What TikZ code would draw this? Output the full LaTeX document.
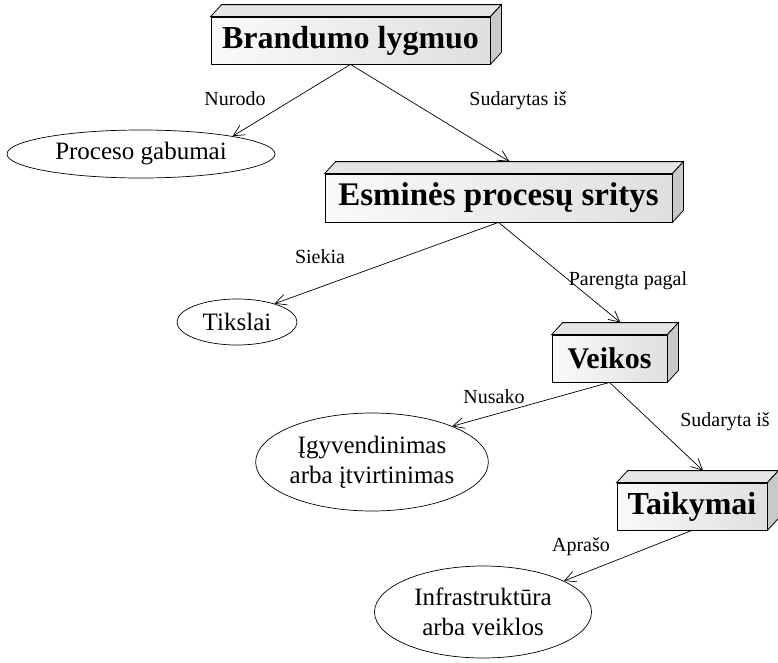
\documentclass[tikz,border=0pt]{standalone}
\usepackage{fontspec}
\setmainfont{Liberation Serif}
\usetikzlibrary{shapes.geometric,arrows.meta}

\tikzset{
  blok/.style={draw, line width=0.8pt, left color=gray!4, right color=gray!25,
    inner sep=0pt, font=\bfseries},
  elip/.style={draw, ellipse, line width=0.7pt, inner sep=0pt, align=center,
    font=\fontsize{25}{30}\selectfont},
  zyme/.style={font=\fontsize{20}{24}\selectfont},
  rod/.style={line width=0.7pt, -{Straight Barb[length=11pt,width=11pt]}}
}

\begin{document}
\begin{tikzpicture}[x=1pt,y=-1pt]
\useasboundingbox (0,0) rectangle (778,662);
% dezes
\node[blok, minimum width=279pt, minimum height=47pt] (b1) at (350.5,40.5)
  {\fontsize{32}{36}\selectfont Brandumo lygmuo};
\node[blok, minimum width=347pt, minimum height=48pt] (b2) at (498.5,198)
  {\fontsize{33}{36}\selectfont Esminės procesų sritys};
\node[blok, minimum width=115pt, minimum height=47pt] (b3) at (609.5,358.5)
  {\fontsize{30}{34}\selectfont Veikos};
\node[blok, minimum width=150pt, minimum height=47pt] (b4) at (692,506.5)
  {\fontsize{32}{36}\selectfont Taikymai};
\foreach \b in {b1,b2,b3,b4}{
  \draw[line width=0.8pt, fill=gray!20] (\b.north west) -- ++(11,-12)
    -- ([shift={(11,-12)}]\b.north east) -- (\b.north east) -- cycle;
  \draw[line width=0.8pt, fill=gray!42] (\b.north east) -- ++(11,-12)
    -- ([shift={(11,-12)}]\b.south east) -- (\b.south east) -- cycle;
}
% elipses
\node[elip, minimum width=268pt, minimum height=48pt] (pg) at (141,154) {Proceso gabumai};
\node[elip, minimum width=120pt, minimum height=46pt] (tk) at (237,322) {Tikslai};
\node[elip, minimum width=230pt, minimum height=98pt] (ig) at (372,462) {Įgyvendinimas\\arba įtvirtinimas};
\node[elip, minimum width=217pt, minimum height=92pt] (in) at (483,612) {Infrastruktūra\\arba veiklos};
% rodykles
\draw[rod] (b1.south) -- (pg.11);
\draw[rod] (b1.south) -- ([shift={(11,-12)}]b2.north);
\draw[rod] (b2.south) -- (tk.26);
\draw[rod] (b2.south) -- ([shift={(11,-12)}]b3.north);
\draw[rod] (b3.south) -- (ig.24);
\draw[rod] (b3.south) -- ([shift={(11,-12)}]b4.north);
\draw[rod] (b4.south) -- (in.21);
% uzrasai
\node[zyme] (l1) at (235,99) {Nurodo};
\node[zyme] (l2) at (518,101) {Sudarytas iš};
\node[zyme] (l3) at (320,257) {Siekia};
\node[zyme] (l4) at (628,281) {Parengta pagal};
\node[zyme] (l5) at (494,397) {Nusako};
\node[zyme] (l6) at (725,422) {Sudaryta iš};
\node[zyme] (l7) at (581,547) {Aprašo};
\end{tikzpicture}
\end{document}
